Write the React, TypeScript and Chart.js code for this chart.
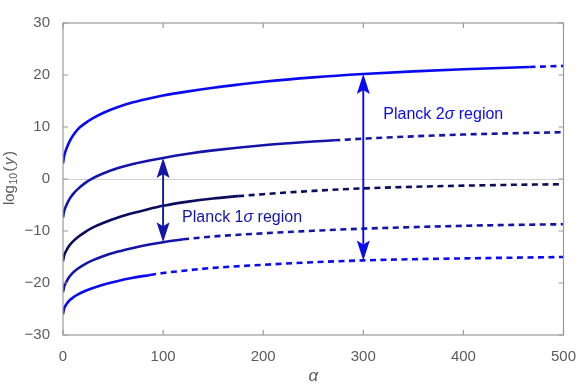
import React, { useEffect, useRef } from 'react';
import { Chart, registerables } from 'chart.js';

Chart.register(...registerables);

// ---- data ----
const C1_ALPHA = [0, 1, 3, 6, 10, 15, 22, 30, 40, 55, 70, 85, 100, 125, 150, 175, 200, 250, 300, 350, 400, 466, 500];
const C1_Y = [3.0, 4.3, 5.6, 7.0, 8.35, 9.6, 10.7, 11.7, 12.7, 13.85, 14.75, 15.45, 16.05, 16.85, 17.55, 18.15, 18.7, 19.55, 20.2, 20.7, 21.1, 21.55, 21.75];
const C1_SOLID_END = 466;

const C2_ALPHA = [0, 1, 3, 6, 10, 15, 22, 30, 40, 55, 70, 85, 100, 125, 150, 200, 250, 271, 300, 350, 400, 450, 500];
const C2_Y = [-7.4, -6.3, -5.2, -4.0, -2.9, -1.9, -0.8, 0.15, 1.05, 2.1, 2.9, 3.5, 4.05, 4.85, 5.5, 6.5, 7.2, 7.45, 7.75, 8.2, 8.55, 8.8, 9.0];
const C2_SOLID_END = 271;

const C3_ALPHA = [0, 1, 3, 6, 10, 15, 22, 30, 40, 55, 70, 85, 100, 125, 150, 175, 200, 250, 300, 350, 400, 450, 500];
const C3_Y = [-15.8, -14.8, -13.9, -12.9, -12.0, -11.15, -10.2, -9.3, -8.45, -7.4, -6.55, -5.8, -5.15, -4.35, -3.75, -3.3, -2.92, -2.28, -1.8, -1.5, -1.28, -1.12, -1.0];
const C3_SOLID_END = 175;

const C4_ALPHA = [0, 1, 3, 6, 10, 15, 22, 30, 40, 55, 70, 85, 100, 120, 150, 200, 250, 300, 350, 400, 450, 500];
const C4_Y = [-21.8, -20.8, -19.9, -18.9, -18.0, -17.2, -16.35, -15.6, -14.85, -13.95, -13.25, -12.65, -12.15, -11.6, -11.05, -10.45, -9.95, -9.55, -9.25, -9.0, -8.83, -8.7];
const C4_SOLID_END = 120;

const C5_ALPHA = [0, 1, 3, 6, 10, 15, 22, 30, 40, 55, 70, 87, 100, 125, 150, 200, 250, 300, 350, 400, 450, 500];
const C5_Y = [-26.0, -25.0, -24.2, -23.45, -22.8, -22.2, -21.55, -20.95, -20.35, -19.6, -19.0, -18.45, -18.08, -17.55, -17.1, -16.5, -16.0, -15.65, -15.42, -15.27, -15.13, -15.0];
const C5_SOLID_END = 87;

const X_TICKS = [0, 100, 200, 300, 400, 500];
const Y_TICKS = [-30, -20, -10, 0, 10, 20, 30];

// arrows: alpha, upper value, lower value
const ARROW_ALPHA = [100, 300];
const ARROW_TOP = [4.05, 20.2];
const ARROW_BOTTOM = [-12.15, -15.65];

const LABEL_TEXT_1 = ['Planck 1', 'σ', ' region'];
const LABEL_TEXT_2 = ['Planck 2', 'σ', ' region'];

// ---- styles ----
const BRIGHT = '#0a0af0';
const MEDIUM = '#1414a8';
const DARK = '#0c0c5c';
const GRAY_TEXT = '#5c5c5c';
const FRAME = '#9a9a9a';
const FONT = '"Liberation Sans", Arial, sans-serif';

type Curve = { alpha: number[]; y: number[]; end: number; color: string };

const curves: Curve[] = [
  { alpha: C1_ALPHA, y: C1_Y, end: C1_SOLID_END, color: BRIGHT },
  { alpha: C2_ALPHA, y: C2_Y, end: C2_SOLID_END, color: MEDIUM },
  { alpha: C3_ALPHA, y: C3_Y, end: C3_SOLID_END, color: DARK },
  { alpha: C4_ALPHA, y: C4_Y, end: C4_SOLID_END, color: MEDIUM },
  { alpha: C5_ALPHA, y: C5_Y, end: C5_SOLID_END, color: BRIGHT },
];

function buildDatasets() {
  const out: any[] = [];
  curves.forEach((c) => {
    const pts = c.alpha.map((a, i) => ({ x: a, y: c.y[i] }));
    const base = {
      borderColor: c.color,
      borderWidth: 2.6,
      pointRadius: 0,
      fill: false,
      cubicInterpolationMode: 'monotone',
      borderCapStyle: 'butt',
    };
    out.push({ ...base, data: pts.filter((p) => p.x <= c.end) });
    out.push({ ...base, data: pts.filter((p) => p.x >= c.end), borderDash: [6, 4.5] });
  });
  return out;
}

function drawRich(ctx: CanvasRenderingContext2D, parts: string[], x: number, y: number, size: number, color: string) {
  ctx.save();
  ctx.fillStyle = color;
  ctx.textBaseline = 'middle';
  ctx.textAlign = 'left';
  let cx = x;
  parts.forEach((p, i) => {
    ctx.font = (i === 1 ? 'italic ' : '') + size + 'px ' + FONT;
    ctx.fillText(p, cx, y);
    cx += ctx.measureText(p).width;
  });
  ctx.restore();
}

function drawHead(ctx: CanvasRenderingContext2D, x: number, tipY: number, dir: number) {
  // dir = -1 pointing up, +1 pointing down
  const len = 20;
  const half = 6.5;
  const notch = 16;
  ctx.beginPath();
  ctx.moveTo(x, tipY);
  ctx.lineTo(x + half, tipY - dir * len);
  ctx.lineTo(x, tipY - dir * notch);
  ctx.lineTo(x - half, tipY - dir * len);
  ctx.closePath();
  ctx.fill();
}

const decor = {
  id: 'decor',
  beforeDatasetsDraw(chart: any) {
    const { ctx, chartArea, scales } = chart;
    const y0 = Math.round(scales.y.getPixelForValue(0)) + 0.5;
    ctx.save();
    ctx.strokeStyle = '#cfcfcf';
    ctx.lineWidth = 1;
    ctx.beginPath();
    ctx.moveTo(chartArea.left, y0);
    ctx.lineTo(chartArea.right, y0);
    ctx.stroke();
    ctx.restore();
  },
  afterDatasetsDraw(chart: any) {
    const { ctx, chartArea, scales } = chart;
    const { left, right, top, bottom } = chartArea;
    ctx.save();
    // frame
    ctx.strokeStyle = FRAME;
    ctx.lineWidth = 1.2;
    ctx.strokeRect(left, top, right - left, bottom - top);
    // ticks
    ctx.beginPath();
    X_TICKS.forEach((v) => {
      const px = scales.x.getPixelForValue(v);
      ctx.moveTo(px, bottom);
      ctx.lineTo(px, bottom - 5);
      ctx.moveTo(px, top);
      ctx.lineTo(px, top + 5);
    });
    Y_TICKS.forEach((v) => {
      const py = scales.y.getPixelForValue(v);
      ctx.moveTo(left, py);
      ctx.lineTo(left + 5, py);
      ctx.moveTo(right, py);
      ctx.lineTo(right - 5, py);
    });
    ctx.stroke();

    // arrows
    const colors = [MEDIUM, BRIGHT];
    ARROW_ALPHA.forEach((a, i) => {
      const x = scales.x.getPixelForValue(a);
      const yt = scales.y.getPixelForValue(ARROW_TOP[i]);
      const yb = scales.y.getPixelForValue(ARROW_BOTTOM[i]);
      ctx.strokeStyle = colors[i];
      ctx.fillStyle = colors[i];
      ctx.lineWidth = 1.9;
      ctx.beginPath();
      ctx.moveTo(x, yt + 16);
      ctx.lineTo(x, yb - 16);
      ctx.stroke();
      drawHead(ctx, x, yt, -1);
      drawHead(ctx, x, yb, 1);
    });

    // region labels
    drawRich(ctx, LABEL_TEXT_1, scales.x.getPixelForValue(119), scales.y.getPixelForValue(-7.5), 16, MEDIUM);
    drawRich(ctx, LABEL_TEXT_2, scales.x.getPixelForValue(320), scales.y.getPixelForValue(12.3), 16, BRIGHT);

    // y axis title: log10(y), rotated
    ctx.fillStyle = GRAY_TEXT;
    ctx.textBaseline = 'alphabetic';
    ctx.textAlign = 'left';
    const parts: [string, string, number, number][] = [
      ['log', '15px ' + FONT, 0, 0.5],
      ['10', '10.5px ' + FONT, 3.5, 1.5],
      ['(', '15px ' + FONT, 0, 1.5],
      ['y', 'italic 15px ' + FONT, 0, 1.5],
      [')', '15px ' + FONT, 0, 0],
    ];
    let total = 0;
    parts.forEach(([t, f, , gap]) => {
      ctx.font = f;
      total += ctx.measureText(t).width + gap;
    });
    ctx.translate(13.5, 178);
    ctx.rotate(-Math.PI / 2);
    let cx = -total / 2;
    parts.forEach(([t, f, dy, gap]) => {
      ctx.font = f;
      ctx.fillText(t, cx, dy);
      cx += ctx.measureText(t).width + gap;
    });
    ctx.setTransform(1, 0, 0, 1, 0, 0);

    // x axis title
    ctx.font = 'italic 17px ' + FONT;
    ctx.textAlign = 'center';
    ctx.textBaseline = 'middle';
    ctx.fillText('α', (left + right) / 2, 376);
    ctx.restore();
  },
};

export default function App() {
  const ref = useRef<HTMLCanvasElement | null>(null);
  useEffect(() => {
    if (!ref.current) return;
    const chart = new Chart(ref.current, {
      type: 'line',
      data: { datasets: buildDatasets() },
      options: {
        animation: false,
        responsive: false,
        devicePixelRatio: 1,
        layout: { padding: { left: 0, right: 14, top: 23, bottom: 0 } },
        plugins: { legend: { display: false }, tooltip: { enabled: false } },
        scales: {
          x: {
            type: 'linear',
            min: 0,
            max: 500,
            afterBuildTicks: (s: any) => {
              s.ticks = X_TICKS.map((v) => ({ value: v }));
            },
            grid: { display: false },
            border: { display: false },
            ticks: {
              color: GRAY_TEXT,
              font: { family: FONT, size: 15 },
              padding: 5,
              maxRotation: 0,
            },
            afterFit: (s: any) => {
              s.height = 51;
            },
          },
          y: {
            type: 'linear',
            min: -30,
            max: 30,
            afterBuildTicks: (s: any) => {
              s.ticks = Y_TICKS.map((v) => ({ value: v }));
            },
            grid: { display: false },
            border: { display: false },
            ticks: {
              color: GRAY_TEXT,
              font: { family: FONT, size: 15 },
              padding: 5,
              callback: (v: any) => (v < 0 ? '\u2212' + Math.abs(v) : String(v)),
            },
            afterFit: (s: any) => {
              s.width = 63;
            },
          },
        },
      } as any,
      plugins: [decor],
    });
    return () => chart.destroy();
  }, []);
  return (
    <div style={{ position: 'fixed', left: 0, top: 0, width: 581, height: 386, background: '#fff' }}>
      <canvas ref={ref} width={581} height={386} style={{ display: 'block' }} />
    </div>
  );
}
